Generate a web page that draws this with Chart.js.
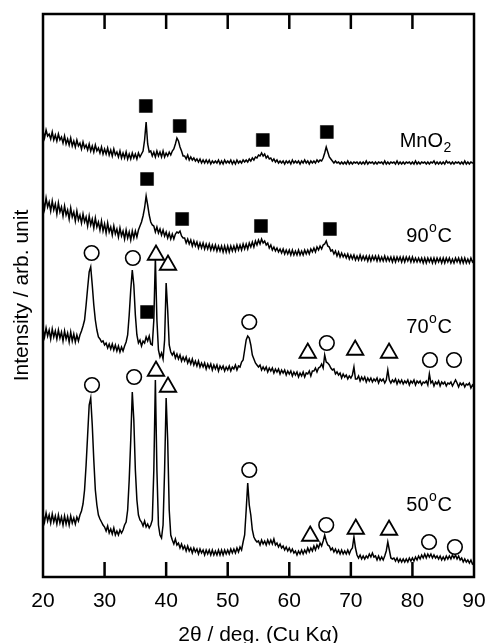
<!DOCTYPE html>
<html><head><meta charset="utf-8">
<script src="https://cdn.jsdelivr.net/npm/chart.js@4/dist/chart.umd.min.js"></script>
<style>html,body{margin:0;padding:0;background:#fff;}canvas{display:block;}</style>
</head><body>
<canvas id="c" width="489" height="643"></canvas>
<script>
// Scan grid: 2θ from 20° to 90°, step 0.25°
const scanStart = 20, scanStep = 0.25, scanPoints = 281;
const twoTheta = [];
for (let i = 0; i < scanPoints; i++) twoTheta.push(scanStart + i * scanStep);

// Intensities (arb. unit, stacked offsets as plotted), one row per degree (x.00, x.25, x.50, x.75)
const mno2 = [
446,439,447,441, 443,438,445,437, 442,436,443,437, 440,434,441,433, 438,432,439,431, // 20-24
436,430,437,431, 434,428,435,429, 432,427,433,426, 431,425,432,426, 429,424,430,423, // 25-29
428,423,429,422, 427,421,428,422, 425,420,426,419, 424,419,425,418, 423,418,424,419, // 30-34
423,418,424,420, 423,426,437,455, 433,425,426,421, 425,420,426,421, 425,420,426,420, // 35-39
424,421,425,422, 426,428,433,439, 436,430,426,421, 421,418,422,417, 420,417,419,416, // 40-44
418,415,418,414, 417,414,417,414, 417,413,416,414, 416,414,417,413, 416,413,417,414, // 45-49
416,414,417,413, 416,413,417,414, 416,414,417,415, 417,415,418,416, 419,417,420,419, // 50-54
422,421,424,421, 423,419,421,418, 419,416,418,415, 417,414,416,414, 416,413,416,414, // 55-59
416,413,417,414, 416,414,416,413, 416,414,417,414, 416,413,416,414, 416,414,417,415, // 60-64
417,416,419,424, 430,425,420,418, 416,414,416,414, 415,413,415,413, 415,413,416,413, // 65-69
415,413,415,414, 415,413,415,413, 415,413,416,413, 415,414,415,413, 415,413,415,414, // 70-74
415,413,416,413, 415,413,415,414, 415,413,416,413, 415,413,415,413, 415,414,415,413, // 75-79
415,413,416,413, 415,413,415,414, 415,413,415,413, 415,414,416,413, 415,413,415,413, // 80-84
415,413,416,414, 415,413,415,413, 415,414,415,413, 415,413,416,413, 415,413,415,414, // 85-89
414];
const c90 = [
377,368,379,370, 375,366,376,367, 373,363,374,365, 370,361,371,362, 367,358,369,360, // 20-24
365,356,366,357, 362,354,363,355, 360,351,361,352, 358,349,359,350, 355,347,356,346, // 25-29
353,344,354,345, 350,342,351,343, 348,340,349,341, 346,338,347,339, 345,337,346,339, // 30-34
346,340,347,351, 355,361,369,381, 372,362,355,352, 351,345,350,344, 348,342,347,341, // 35-39
345,339,344,338, 343,338,343,345, 344,346,341,339, 339,334,338,333, 337,331,336,331, // 40-44
335,329,334,329, 334,328,333,328, 333,327,332,327, 332,326,331,326, 331,325,331,325, // 45-49
331,325,331,326, 331,326,332,327, 332,327,333,328, 333,328,334,330, 335,330,336,332, // 50-54
337,333,338,334, 336,332,334,329, 332,327,330,326, 329,325,328,324, 328,323,327,323, // 55-59
327,322,327,322, 326,322,327,322, 326,322,327,323, 327,323,328,325, 329,325,330,327, // 60-64
331,328,332,333, 336,331,330,326, 327,323,326,321, 325,320,324,320, 323,319,323,318, // 65-69
322,318,322,317, 321,317,322,317, 321,317,321,316, 321,316,321,317, 321,316,321,316, // 70-74
320,316,321,316, 320,316,320,315, 320,315,320,316, 320,315,320,315, 320,316,320,315, // 75-79
320,315,319,315, 319,315,319,314, 319,314,319,315, 319,314,319,314, 319,315,319,314, // 80-84
319,314,319,315, 319,314,318,314, 319,315,319,314, 319,314,319,314, 318,314,319,315, // 85-89
317];
const c70 = [
248,240,249,241, 247,238,248,240, 246,238,247,239, 245,236,246,238, 244,235,245,236, // 20-24
243,235,242,236, 242,246,251,257, 272,289,305,310, 292,272,257,247, 240,238,235,236, // 25-29
232,234,229,233, 228,233,227,232, 226,231,225,230, 226,231,235,242, 262,287,307,292, // 30-34
262,242,234,237, 231,236,234,240, 236,241,233,232, 257,319,257,227, 220,224,218,237, // 35-39
294,267,232,225, 222,225,219,223, 218,222,216,220, 216,220,214,218, 213,218,212,216, // 40-44
211,216,210,214, 210,214,208,213, 209,213,207,212, 208,212,206,211, 208,211,206,210, // 45-49
207,211,206,210, 208,212,207,211, 210,215,217,227, 237,241,239,232, 222,218,214,212, // 50-54
210,212,207,210, 207,210,205,209, 206,209,204,208, 205,208,203,207, 204,207,202,206, // 55-59
203,206,201,205, 202,205,200,204, 201,205,200,204, 203,206,201,206, 206,209,205,209, // 60-64
210,213,209,222, 215,214,212,209, 207,208,203,205, 202,204,199,203, 200,202,198,201, // 65-69
199,202,210,198, 198,201,196,200, 197,200,195,199, 196,199,195,198, 196,199,194,198, // 70-74
196,198,194,197, 207,197,194,197, 195,198,193,197, 194,197,193,196, 194,197,192,196, // 75-79
194,197,192,196, 194,196,192,195, 194,196,192,203, 194,196,191,195, 193,196,191,195, // 80-84
193,195,191,194, 193,195,191,194, 197,194,190,194, 192,194,190,193, 192,194,189,192, // 85-89
190];
const c50 = [
63,55,64,56, 62,54,63,55, 61,53,62,54, 60,52,61,53, 60,52,61,54, // 20-24
59,53,60,56, 62,66,73,87, 112,142,172,179, 152,117,87,72, 62,58,55,52, // 25-29
50,46,51,44, 48,43,49,42, 46,42,47,44, 47,52,55,67, 97,137,185,157, // 30-34
107,77,62,57, 55,51,56,50, 53,49,52,57, 107,197,107,52, 42,39,52,107, // 35-39
179,137,67,42, 37,33,38,32, 34,29,33,28, 31,26,31,26, 29,24,29,25, // 40-44
28,23,28,24, 27,22,27,23, 27,22,27,22, 26,22,27,22, 27,22,27,23, // 45-49
27,23,28,24, 28,24,29,25, 30,27,35,42, 67,94,72,62, 47,40,37,35, // 50-54
36,32,37,33, 36,32,37,33, 37,33,38,32, 34,30,33,29, 31,27,30,26, // 55-59
29,25,28,24, 26,22,26,23, 27,23,27,24, 29,25,29,26, 31,27,32,29, // 60-64
34,31,36,42, 36,32,31,27, 29,25,28,24, 27,23,27,23, 26,23,27,23, // 65-69
27,29,40,29, 22,19,22,18, 21,18,21,19, 23,20,24,20, 21,17,21,17, // 70-74
20,17,21,26, 35,27,19,18, 19,16,19,15, 18,15,18,15, 18,15,19,16, // 75-79
19,16,20,17, 21,18,22,19, 23,19,23,20, 23,19,22,19, 21,18,21,17, // 80-84
20,17,21,18, 21,18,22,19, 22,18,21,17, 19,15,18,15, 17,14,17,13, // 85-89
14];

// Phase markers (■ MnO2, ○ and △ other phases)
const squareX = [36.7, 42.2, 55.7, 66.1, 36.9, 42.6, 55.4, 66.6, 36.9];
const squareY = [471, 451, 437, 445, 398, 358, 351, 348, 265];
const circleX = [27.9, 34.6, 53.5, 66.1, 82.85, 86.75, 27.96, 34.8, 53.5, 66.0, 82.7, 86.9];
const circleY = [324, 319, 255, 234, 217, 217, 192, 200, 107, 52, 35, 30];
const triangleX = [38.35, 40.3, 63.0, 70.7, 76.2, 38.35, 40.3, 63.4, 70.8, 76.2];
const triangleY = [322, 312, 224, 227, 224, 206, 190, 41, 48, 47];

const xTicks = [20, 30, 40, 50, 60, 70, 80, 90];
const traceNames = [
  {main: 'MnO', sub: '2', tail: ''},
  {main: '90', sup: 'o', tail: 'C'},
  {main: '70', sup: 'o', tail: 'C'},
  {main: '50', sup: 'o', tail: 'C'}
];
const nameAnchorX = 86.4;
const nameAnchorY = [430, 335.5, 244, 66.5];

const FONT = '"Liberation Sans", Arial, Helvetica, sans-serif';
Chart.defaults.font.family = FONT;
Chart.defaults.color = '#000';

function xy(xs, ys) { return ys.map((v, i) => ({x: xs[i], y: v})); }
function trace(arr) {
  return {data: xy(twoTheta, arr), showLine: true, borderColor: '#000', borderWidth: 1.5,
          pointRadius: 0, fill: false, tension: 0, order: 2};
}

const framePlugin = {
  id: 'frame',
  afterDatasetsDraw(chart) {
    const {ctx, chartArea: a, scales: {x, y}} = chart;
    ctx.save();
    ctx.strokeStyle = '#000';
    ctx.lineWidth = 2.5;
    ctx.strokeRect(a.left, a.top, a.right - a.left, a.bottom - a.top);
    xTicks.forEach(v => {
      if (v <= x.min || v >= x.max) return;
      const px = x.getPixelForValue(v);
      ctx.beginPath();
      ctx.moveTo(px, a.bottom); ctx.lineTo(px, a.bottom - 15);
      ctx.moveTo(px, a.top); ctx.lineTo(px, a.top + 15);
      ctx.stroke();
    });
    // trace names
    ctx.fillStyle = '#000';
    ctx.textBaseline = 'alphabetic';
    ctx.textAlign = 'left';
    traceNames.forEach((n, i) => {
      const big = '20px ' + FONT, small = '14px ' + FONT;
      ctx.font = big; const wMain = ctx.measureText(n.main).width; const wTail = ctx.measureText(n.tail).width;
      ctx.font = small; const wS = ctx.measureText(n.sub || n.sup).width;
      const right = x.getPixelForValue(nameAnchorX);
      const base = y.getPixelForValue(nameAnchorY[i]);
      let px = right - (wMain + wS + wTail + 1);
      ctx.font = big; ctx.fillText(n.main, px, base); px += wMain + 0.5;
      ctx.font = small;
      if (n.sub) ctx.fillText(n.sub, px, base + 5);
      else ctx.fillText(n.sup, px, base - 10);
      px += wS + 0.5;
      ctx.font = big; ctx.fillText(n.tail, px, base);
    });
    ctx.restore();
  }
};

new Chart(document.getElementById('c'), {
  type: 'scatter',
  data: {
    datasets: [
      {data: xy(squareX, squareY), pointStyle: 'rect', pointRadius: 9.2, backgroundColor: '#000', borderColor: '#000', borderWidth: 0.5, order: 0},
      {data: xy(circleX, circleY), pointStyle: 'circle', pointRadius: 7.3, backgroundColor: '#fff', borderColor: '#000', borderWidth: 1.6, order: 0},
      {data: xy(triangleX, triangleY), pointStyle: 'triangle', pointRadius: 9.5, backgroundColor: '#fff', borderColor: '#000', borderWidth: 1.8, order: 0},
      trace(mno2), trace(c90), trace(c70), trace(c50)
    ]
  },
  options: {
    responsive: false, animation: false, devicePixelRatio: 1, events: [],
    layout: {padding: {top: 14, right: 15, left: 0, bottom: 0}},
    plugins: {legend: {display: false}, tooltip: {enabled: false}, title: {display: false}},
    scales: {
      x: {type: 'linear', min: 20, max: 90,
          ticks: {stepSize: 10, autoSkip: false, maxRotation: 0, padding: 12, color: '#000', font: {size: 21}},
          grid: {display: false, drawTicks: false}, border: {display: false},
          title: {display: true, text: '2θ / deg. (Cu Kα)', color: '#000', font: {size: 21, lineHeight: 0.7}, padding: {top: 0, bottom: 0}},
          afterFit(s) { s.height = 66; s.paddingLeft = 0; s.paddingRight = 0; }},
      y: {min: 0, max: 563,
          ticks: {display: false}, grid: {display: false, drawTicks: false}, border: {display: false},
          title: {display: true, text: 'Intensity / arb. unit', color: '#000', font: {size: 21}, padding: {top: 10, bottom: 0}},
          afterFit(s) { s.width = 43; }}
    }
  },
  plugins: [framePlugin]
});
</script></body></html>
